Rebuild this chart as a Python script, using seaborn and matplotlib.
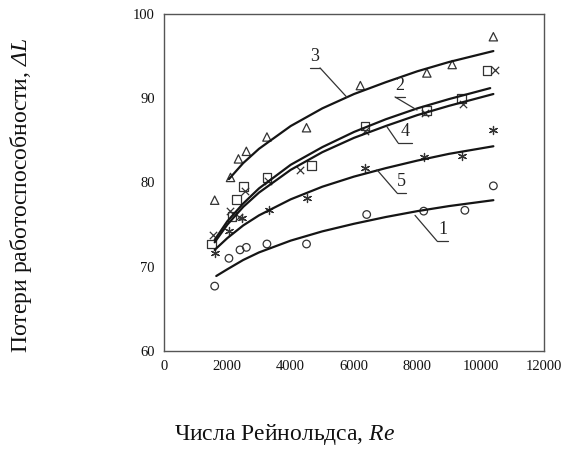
import matplotlib
matplotlib.use("Agg")
import matplotlib.pyplot as plt
import pandas as pd
import seaborn as sns

# --- экспериментальные точки (Re, ΔL) ---
re_3 = [1600, 2100, 2350, 2600, 3250, 4500, 6200, 8300, 9100, 10400]
dl_3 = [77.9, 80.6, 82.8, 83.7, 85.4, 86.5, 91.5, 93.0, 94.0, 97.3]

re_2 = [1500, 2150, 2300, 2500, 3250, 4650, 6350, 8300, 9400, 10200]
dl_2 = [72.7, 76.0, 78.0, 79.5, 80.6, 82.0, 86.7, 88.5, 90.0, 93.3]

re_4 = [1550, 2080, 2370, 2560, 3280, 4300, 6350, 8250, 9450, 10450]
dl_4 = [73.8, 76.6, 75.9, 79.0, 80.2, 81.5, 86.1, 88.3, 89.3, 93.3]

re_5 = [1600, 2050, 2450, 3300, 4500, 6350, 8200, 9400, 10400]
dl_5 = [71.6, 74.3, 75.8, 76.7, 78.2, 81.7, 83.0, 83.2, 86.2]

re_1 = [1600, 2050, 2400, 2600, 3250, 4500, 6400, 8200, 9500, 10400]
dl_1 = [67.7, 71.0, 72.0, 72.3, 72.7, 72.7, 76.2, 76.6, 76.7, 79.6]

# --- аппроксимирующие кривые ---
cx_1 = [1650, 2000, 2500, 3000, 4000, 5000, 6000, 7000, 8000, 9000, 10400]
cy_1 = [68.9, 69.7, 70.8, 71.7, 73.1, 74.2, 75.1, 75.9, 76.6, 77.2, 77.9]

cx_5 = [1600, 2000, 2500, 3000, 4000, 5000, 6000, 7000, 8000, 9000, 10400]
cy_5 = [72.0, 73.4, 74.9, 76.1, 78.0, 79.5, 80.7, 81.7, 82.6, 83.4, 84.3]

cx_4 = [1600, 2000, 2500, 3000, 4000, 5000, 6000, 7000, 8000, 9000, 10400]
cy_4 = [72.9, 75.0, 77.1, 78.8, 81.5, 83.6, 85.3, 86.7, 88.0, 89.1, 90.5]

cx_2 = [1600, 2000, 2500, 3000, 4000, 5000, 6000, 7000, 8000, 9000, 10300]
cy_2 = [73.2, 75.4, 77.5, 79.3, 82.1, 84.2, 86.0, 87.5, 88.8, 89.9, 91.2]

cx_3 = [2050, 2500, 3000, 4000, 5000, 6000, 7000, 8000, 9000, 10400]
cy_3 = [80.4, 82.3, 84.0, 86.7, 88.8, 90.5, 91.9, 93.2, 94.3, 95.6]

# номера кривых: текст, полка выноски, конец выноски на кривой
labels = ["3", "2", "4", "5", "1"]
label_xy = [(4770, 94.0), (7450, 90.5), (7610, 85.1), (7500, 79.1), (8800, 73.4)]
shelf_x = [(4610, 4926), (7295, 7611), (7390, 7832), (7358, 7642), (8621, 8968)]
shelf_y = [93.6, 90.15, 84.7, 78.75, 73.05]
leader_start = [4926, 7295, 7390, 7358, 8621]
leader_end = [(5779, 90.1), (7990, 88.6), (7042, 86.6), (6726, 81.5), (7926, 76.1)]

sns.set_theme(style="white")
plt.rcParams["font.family"] = ["Liberation Serif", "DejaVu Serif"]
plt.rcParams["mathtext.fontset"] = "custom"
plt.rcParams["mathtext.it"] = "Liberation Serif:italic"
plt.rcParams["mathtext.rm"] = "Liberation Serif:italic"

fig = plt.figure(figsize=(5.64, 4.54), dpi=100)
ax = fig.add_axes([0.2908, 0.2269, 0.6738, 0.7423])

line_c = "#151515"
mark_c = "#333333"

for cx, cy in [(cx_1, cy_1), (cx_5, cy_5), (cx_4, cy_4), (cx_2, cy_2), (cx_3, cy_3)]:
    sns.lineplot(x=cx, y=cy, ax=ax, color=line_c, linewidth=1.6, sort=False)

# полые маркеры
for xs, ys, m, s in [(re_3, dl_3, "^", 36), (re_2, dl_2, "s", 40), (re_1, dl_1, "o", 30)]:
    sns.scatterplot(x=xs, y=ys, ax=ax, marker=m, s=s, color=mark_c)
    pts = ax.collections[-1]
    pts.set_facecolor("none")
    pts.set_edgecolor(mark_c)
    pts.set_linewidth(0.9)

sns.scatterplot(x=re_4, y=dl_4, ax=ax, marker="x", s=28, color=mark_c, linewidth=0.9)
sns.scatterplot(x=re_5, y=dl_5, ax=ax, marker=(6, 2, 0), s=34, color=mark_c, linewidth=0.9)

for i, lab in enumerate(labels):
    ax.text(label_xy[i][0], label_xy[i][1], lab, fontsize=13, ha="center",
            va="bottom", color="#222222")
    ax.plot(shelf_x[i], [shelf_y[i], shelf_y[i]], color="#333333", linewidth=0.9)
    ax.plot([leader_start[i], leader_end[i][0]], [shelf_y[i], leader_end[i][1]],
            color="#333333", linewidth=0.9)

ax.set_xlim(0, 12000)
ax.set_ylim(60, 100)
ax.set_xticks(range(0, 12001, 2000))
ax.set_yticks(range(60, 101, 10))
ax.tick_params(direction="inout", length=7, width=0.8, color="#777777",
               labelsize=10.5, labelcolor="#111111", pad=3)
for sp in ax.spines.values():
    sp.set_color("#555555")
    sp.set_linewidth(1.0)

fig.text(0.037, 0.57, "Потери работоспособности, $\\mathrm{ΔL}$", rotation=90,
         ha="center", va="center", fontsize=17, color="#111111")
fig.text(0.505, 0.042, "Числа Рейнольдса, $\\mathrm{Re}$", ha="center",
         va="center", fontsize=17, color="#111111")

fig.savefig("out.png", dpi=100)
